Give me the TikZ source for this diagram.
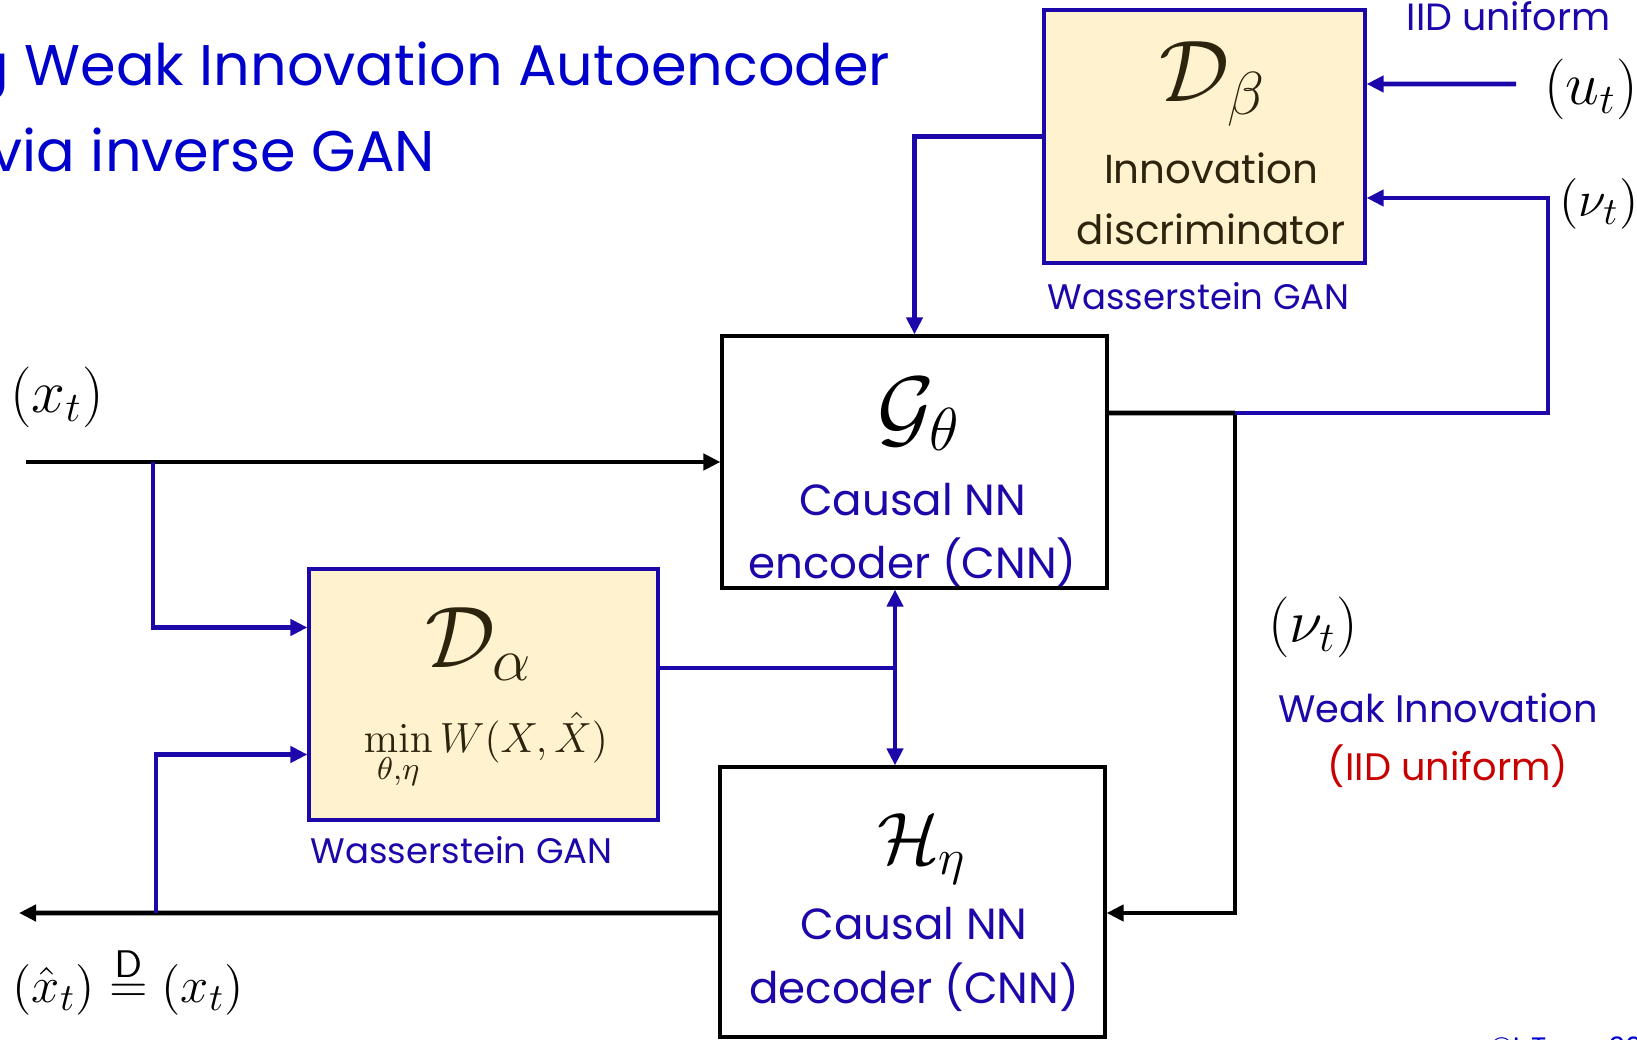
\documentclass[tikz,border=0pt]{standalone}
\usepackage[no-math]{fontspec}
\newfontfamily\slidefont{Poppins}
\usetikzlibrary{arrows.meta}
\definecolor{titleblue}{RGB}{0,0,204}
\definecolor{netblue}{RGB}{28,8,170}
\definecolor{cream}{RGB}{255,242,206}
\definecolor{ink}{RGB}{45,36,14}
\definecolor{iidred}{RGB}{200,0,0}

\begin{document}
\begin{tikzpicture}[x=1cm,y=1cm]
  \tikzset{
    sig/.tip={Triangle[length=1.7mm,width=1.6mm]},
    netbox/.style={draw=black,line width=0.9pt,fill=white,
      minimum width=3.85cm,inner sep=0pt},
    critic/.style={draw=netblue,line width=0.9pt,fill=cream,inner sep=0pt},
    caption/.style={font=\slidefont\fontsize{12.4}{18.2}\selectfont,
      text=netblue,align=center,inner sep=0pt},
    gantag/.style={font=\slidefont\fontsize{10.1}{13}\selectfont,
      text=netblue,inner sep=0pt},
    note/.style={font=\slidefont\fontsize{10.9}{14}\selectfont,
      text=netblue,inner sep=0pt},
    sym/.style={font=\fontsize{25}{30}\selectfont,inner sep=0pt},
    signal/.style={font=\fontsize{17}{20}\selectfont,inner sep=0pt},
    flow/.style={-sig,line width=1.3pt,draw=black},
    blueflow/.style={-sig,line width=1.4pt,draw=netblue},
    blueline/.style={line width=1.4pt,draw=netblue},
    blackline/.style={line width=1.3pt,draw=black}
  }
  \useasboundingbox (0,0) rectangle (16.37,10.39);
  \clip (0,0) rectangle (16.37,10.39);

  \node[font=\slidefont\fontsize{16.3}{24}\selectfont,text=titleblue,
    anchor=base east,inner sep=0pt] (title1) at (8.91,9.53)
    {Learning Weak Innovation Autoencoder};
  \node[font=\slidefont\fontsize{16.3}{24}\selectfont,text=titleblue,
    anchor=base west,inner sep=0pt] (title2) at (-0.10,8.67)
    {via inverse GAN};

  \node[critic,minimum width=3.21cm,minimum height=2.53cm] (discb) at (12.045,9.025) {};
  \node[netbox,minimum height=2.52cm] (enc) at (9.145,5.77) {};
  \node[critic,minimum width=3.49cm,minimum height=2.51cm] (disca) at (4.835,3.445) {};
  \node[netbox,minimum height=2.70cm] (dec) at (9.125,1.37) {};

  \node[sym,text=ink] (discbsym) at (12.13,9.55) {$\mathcal{D}_\beta$};
  \node[caption,text=ink,anchor=base,
    font=\slidefont\fontsize{11.5}{17.6}\selectfont] (discbtxt) at (12.11,7.94)
    {Innovation\\discriminator};
  \node[sym] (encsym) at (9.19,6.25) {$\mathcal{G}_\theta$};
  \node[caption,anchor=base] (enctxt) at (9.125,4.60) {Causal NN\\encoder (CNN)};
  \node[sym,text=ink] (discasym) at (4.79,3.95) {$\mathcal{D}_\alpha$};
  \node[font=\fontsize{12.5}{15}\selectfont,text=ink,anchor=base,inner sep=0pt]
    (discaobj) at (4.86,2.87) {$\displaystyle\min_{\theta,\eta} W(X,\hat{X})$};
  \node[sym,font=\fontsize{21}{25}\selectfont] (decsym) at (9.22,1.90) {$\mathcal{H}_\eta$};
  \node[caption,anchor=base] (dectxt) at (9.14,0.36) {Causal NN\\decoder (CNN)};

  \node[gantag,anchor=base west] (discbtag) at (10.47,7.29) {Wasserstein GAN};
  \node[gantag,anchor=base west] (discatag) at (3.10,1.76) {Wasserstein GAN};
  \node[gantag,font=\slidefont\fontsize{10.8}{13}\selectfont,anchor=base west]
    (iidtop) at (14.06,10.08) {IID uniform};
  \node[note,anchor=base] (weaktxt) at (14.38,3.16) {Weak Innovation};
  \node[note,anchor=base,text=iidred] (iidtxt) at (14.48,2.58) {(IID uniform)};

  \node[signal,font=\fontsize{18.3}{22}\selectfont] (xlab) at (0.57,6.42) {$(x_t)$};
  \node[signal] (ulab) at (15.91,9.50) {$(u_t)$};
  \node[signal,font=\fontsize{15}{18}\selectfont] (nulab) at (15.99,8.35) {$(\nu_t)$};
  \node[signal] (nulabmid) at (13.13,4.12) {$(\nu_t)$};
  \node[signal,font=\fontsize{15.5}{18}\selectfont,anchor=west] (xhatlab) at (0.12,0.58)
    {$(\hat{x}_t)\stackrel{\mathsf{D}}{=}(x_t)$};
  \node[font=\slidefont\fontsize{8}{10}\selectfont,text=titleblue,
    anchor=north west,inner sep=0pt] (copy) at (14.90,0.03) {©L.Tong 2020};

  \coordinate (xin) at (0.26,5.77);
  \coordinate (tapx) at (1.53,5.77);
  \coordinate (xout) at (0.19,1.26);
  \coordinate (tapy) at (1.56,1.26);
  \coordinate (mid) at (8.95,3.71);
  \coordinate (junc) at (12.35,6.26);
  \coordinate (loopr) at (15.48,6.26);
  \coordinate (uin) at (15.16,9.55);

  \draw[flow] (xin) -- (enc.west);
  \draw[blueflow] (tapx) |- ([yshift=6.7mm]disca.west);
  \draw[flow] ([yshift=-1.1mm]dec.west) -- (xout);
  \draw[blueflow] (tapy) |- ([yshift=-6mm]disca.west);
  \draw[blueline] ([yshift=2.65mm]disca.east) -- (mid);
  \draw[blueline,sig-sig] (enc.south -| mid) -- (dec.north -| mid);
  \draw[blackline] ([yshift=4.9mm]enc.east) -- (junc);
  \draw[flow] (junc) |- ([yshift=-1.1mm]dec.east);
  \draw[blueflow] (junc) -- (loopr) |- ([yshift=-6.15mm]discb.east);
  \draw[blueflow] (uin) -- ([yshift=5.25mm]discb.east);
  \draw[blueflow] (discb.west) -| (enc.north);
\end{tikzpicture}
\end{document}
